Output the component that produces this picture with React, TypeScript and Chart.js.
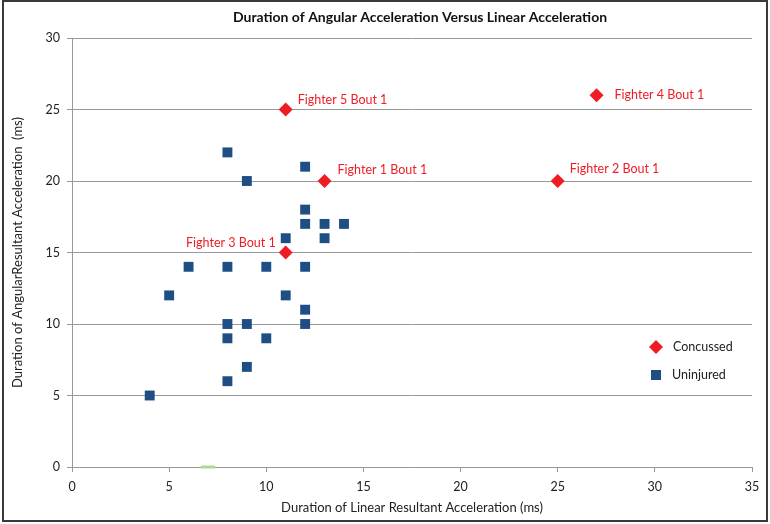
import React, { useEffect, useRef } from 'react';
import { Chart, registerables } from 'chart.js';

Chart.register(...registerables);

const TITLE = 'Duration of Angular Acceleration Versus Linear Acceleration';
const X_TITLE = 'Duration of Linear Resultant Acceleration (ms)';
const Y_TITLE = 'Duration of AngularResultant Acceleration  (ms)';

const seriesNames = ['Concussed', 'Uninjured'];

const concussedX = [13, 25, 11, 27, 11];
const concussedY = [20, 20, 15, 26, 25];
const concussedLabels = [
  'Fighter 1 Bout 1',
  'Fighter 2 Bout 1',
  'Fighter 3 Bout 1',
  'Fighter 4 Bout 1',
  'Fighter 5 Bout 1',
];

const uninjuredX = [4, 5, 6, 8, 8, 8, 8, 8, 9, 9, 9, 10, 10, 11, 11, 12, 12, 12, 12, 12, 12, 13, 13, 14];
const uninjuredY = [5, 12, 14, 22, 14, 10, 9, 6, 20, 10, 7, 14, 9, 16, 12, 21, 18, 17, 14, 11, 10, 17, 16, 17];

const markerX = [7];
const markerY = [0];

const xTickValues = [0, 5, 10, 15, 20, 25, 30, 35];
const yTickValues = [0, 5, 10, 15, 20, 25, 30];

// label placement (pixel offsets from each concussed point)
const labelOffsets: [number, number][] = [
  [13, -11],
  [12, -12],
  [-10, -10],
  [18, 0],
  [12, -10],
];

const FONT = 'Lato, "Open Sans", "Noto Sans", sans-serif';
const RED = '#F01C24';
const BLUE = '#1F4E85';
const GRID = '#999999';

const toPoints = (xs: number[], ys: number[]) => xs.map((x, i) => ({ x, y: ys[i] }));

export default function App() {
  const ref = useRef<HTMLCanvasElement | null>(null);

  useEffect(() => {
    document.body.style.margin = '0';
    const canvas = ref.current;
    if (!canvas) return;

    const decorPlugin = {
      id: 'decor',
      beforeDraw(chart: any) {
        const { ctx } = chart;
        ctx.save();
        ctx.fillStyle = '#ffffff';
        ctx.fillRect(0, 0, chart.width, chart.height);
        ctx.restore();
      },
      afterDraw(chart: any) {
        const { ctx, chartArea } = chart;
        ctx.save();
        // title
        ctx.fillStyle = '#111';
        ctx.font = `bold 14px ${FONT}`;
        ctx.textAlign = 'center';
        ctx.textBaseline = 'middle';
        ctx.fillText(TITLE, (chartArea.left + chartArea.right) / 2 + 8, 17);

        // point labels
        const meta = chart.getDatasetMeta(0);
        ctx.font = `12.5px ${FONT}`;
        ctx.fillStyle = RED;
        ctx.textBaseline = 'middle';
        meta.data.forEach((el: any, i: number) => {
          const [dx, dy] = labelOffsets[i];
          ctx.textAlign = dx >= 0 ? 'left' : 'right';
          ctx.fillText(concussedLabels[i], el.x + dx, el.y + dy);
        });

        // legend
        const lx = chartArea.right - 96;
        const ly1 = 347;
        const ly2 = 375;
        ctx.fillStyle = RED;
        ctx.beginPath();
        ctx.moveTo(lx - 7, ly1);
        ctx.lineTo(lx, ly1 - 7);
        ctx.lineTo(lx + 7, ly1);
        ctx.lineTo(lx, ly1 + 7);
        ctx.closePath();
        ctx.fill();
        ctx.fillStyle = BLUE;
        ctx.fillRect(lx - 5, ly2 - 5, 10, 10);
        ctx.fillStyle = '#222';
        ctx.font = `12.5px ${FONT}`;
        ctx.textAlign = 'left';
        ctx.fillText(seriesNames[0], lx + 17, ly1);
        ctx.fillText(seriesNames[1], lx + 16, ly2);

        // outer frame
        ctx.strokeStyle = '#3a3a3a';
        ctx.lineWidth = 2;
        ctx.strokeRect(3, 1, chart.width - 6, chart.height - 4);
        ctx.restore();
      },
    };

    const chart = new Chart(canvas, {
      type: 'scatter',
      data: {
        datasets: [
          {
            label: seriesNames[0],
            data: toPoints(concussedX, concussedY),
            pointStyle: 'rectRot',
            pointRadius: 7,
            backgroundColor: RED,
            borderColor: RED,
            borderWidth: 0,
          },
          {
            label: seriesNames[1],
            data: toPoints(uninjuredX, uninjuredY),
            pointStyle: 'rect',
            pointRadius: 7,
            backgroundColor: BLUE,
            borderColor: BLUE,
            borderWidth: 0,
          },
          {
            label: 'marker',
            data: toPoints(markerX, markerY),
            pointStyle: 'line',
            pointRadius: 7,
            borderColor: '#B5D395',
            backgroundColor: '#B5D395',
            borderWidth: 3,
            clip: false as any,
          },
        ],
      },
      options: {
        responsive: false,
        animation: false,
        events: [],
        layout: { padding: { top: 38, right: 18, bottom: 0, left: 0 } },
        plugins: {
          legend: { display: false },
          title: { display: false },
          tooltip: { enabled: false },
        },
        scales: {
          x: {
            type: 'linear',
            min: xTickValues[0],
            max: xTickValues[xTickValues.length - 1],
            afterFit: (s: any) => { s.height = 57; },
            afterBuildTicks: (s: any) => { s.ticks = xTickValues.map((v) => ({ value: v })); },
            ticks: { color: '#222', font: { family: FONT, size: 12.5 }, padding: 7 },
            grid: { drawOnChartArea: false, drawTicks: true, tickLength: 5, color: GRID },
            border: { color: GRID, width: 1 },
            title: {
              display: true,
              text: X_TITLE,
              color: '#222',
              font: { family: FONT, size: 13 },
              padding: { top: 0, bottom: 8 },
            },
          },
          y: {
            type: 'linear',
            min: yTickValues[0],
            max: yTickValues[yTickValues.length - 1],
            afterFit: (s: any) => { s.width = 72; },
            afterBuildTicks: (s: any) => { s.ticks = yTickValues.map((v) => ({ value: v })); },
            ticks: { color: '#222', font: { family: FONT, size: 12.5 }, padding: 7 },
            grid: { drawOnChartArea: true, drawTicks: true, tickLength: 5, color: GRID, lineWidth: 1 },
            border: { color: GRID, width: 1 },
            title: {
              display: true,
              text: Y_TITLE,
              color: '#222',
              font: { family: FONT, size: 13 },
              padding: { top: 10, bottom: 0 },
            },
          },
        },
      },
      plugins: [decorPlugin],
    });

    return () => chart.destroy();
  }, []);

  return <canvas ref={ref} width={770} height={524} style={{ display: 'block' }} />;
}
